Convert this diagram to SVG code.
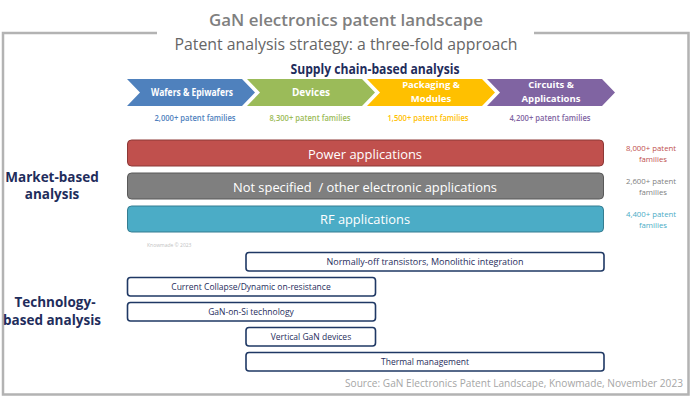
<svg xmlns="http://www.w3.org/2000/svg" width="700" height="402" viewBox="0 0 700 402">
<style>
  text { font-family: "Open Sans", "Noto Sans", "Liberation Sans", sans-serif; }
  .frame { fill: none; stroke: #b3b3b3; stroke-width: 2.5; }
  .title { font-size: 17px; font-weight: 600; fill: #7f7f7f; text-anchor: middle; }
  .subtitle { font-size: 15.5px; fill: #666666; text-anchor: middle; }
  .navyhead { font-size: 13.5px; font-weight: 700; fill: #1f2d5c; text-anchor: middle; }
  .chev { stroke: none; }
  .chevtxt { font-size: 10px; font-weight: 700; fill: #ffffff; text-anchor: middle; }
  .chevtxt2 { font-size: 9.5px; font-weight: 700; fill: #ffffff; text-anchor: middle; }
  .fam { font-size: 8px; font-weight: 600; text-anchor: middle; }
  .bar { stroke-width: 1; }
  .bartxt { font-size: 13.5px; fill: #ffffff; text-anchor: middle; }
  .side { font-size: 7.8px; text-anchor: middle; }
  .tech rect { fill: #ffffff; stroke: #1f3864; stroke-width: 1.6; }
  .techtxt { font-size: 8.5px; fill: #1f2d5c; text-anchor: middle; }
  .source { font-size: 10.5px; fill: #a6a6a6; text-anchor: end; }
</style>

<!-- frame -->
<g id="frame">
  <polyline class="frame" points="157,33 3,33 3,394.5 688.5,394.5 688.5,33 534,33"/>
</g>

<g id="titles">
  <text class="title" x="346" y="26" textLength="274" lengthAdjust="spacingAndGlyphs">GaN electronics patent landscape</text>
  <text class="subtitle" x="346" y="50" textLength="343" lengthAdjust="spacingAndGlyphs">Patent analysis strategy: a three-fold approach</text>
</g>

<g id="supply-chain">
  <text class="navyhead" x="375" y="74" textLength="169" lengthAdjust="spacingAndGlyphs">Supply chain-based analysis</text>
  <g id="chev-wafers">
    <polygon class="chev" fill="#4f81bd" points="127,79 242,79 255,92.5 242,106 127,106 140,92.5"/>
    <text class="chevtxt" x="192" y="96" textLength="82" lengthAdjust="spacingAndGlyphs">Wafers &amp; Epiwafers</text>
    <text class="fam" fill="#4f81bd" x="195" y="121" textLength="81" lengthAdjust="spacingAndGlyphs">2,000+ patent families</text>
  </g>
  <g id="chev-devices">
    <polygon class="chev" fill="#9bbb59" points="247,79 362,79 375,92.5 362,106 247,106 260,92.5"/>
    <text class="chevtxt" x="311" y="96">Devices</text>
    <text class="fam" fill="#9bbb59" x="310" y="121" textLength="81" lengthAdjust="spacingAndGlyphs">8,300+ patent families</text>
  </g>
  <g id="chev-packaging">
    <polygon class="chev" fill="#ffc000" points="367,79 482,79 495,92.5 482,106 367,106 380,92.5"/>
    <text class="chevtxt2" x="431" y="88">Packaging &amp;</text>
    <text class="chevtxt2" x="431" y="101.5">Modules</text>
    <text class="fam" fill="#ffc000" x="428" y="121" textLength="81" lengthAdjust="spacingAndGlyphs">1,500+ patent families</text>
  </g>
  <g id="chev-circuits">
    <polygon class="chev" fill="#8064a2" points="487,79 602,79 615,92.5 602,106 487,106 500,92.5"/>
    <text class="chevtxt2" x="551" y="88">Circuits &amp;</text>
    <text class="chevtxt2" x="551" y="101.5">Applications</text>
    <text class="fam" fill="#8064a2" x="550" y="121" textLength="81" lengthAdjust="spacingAndGlyphs">4,200+ patent families</text>
  </g>
</g>

<g id="market">
  <text class="navyhead" x="52" y="182">Market-based</text>
  <text class="navyhead" x="52" y="199">analysis</text>
  <g id="bar-power">
    <rect class="bar" x="127.5" y="140" width="476" height="26" rx="4" fill="#c0504d" stroke="#8c3836"/>
    <text class="bartxt" x="365" y="159" textLength="114" lengthAdjust="spacingAndGlyphs">Power applications</text>
    <text class="side" fill="#c0504d" x="651" y="151">8,000+ patent</text>
    <text class="side" fill="#c0504d" x="653" y="162">families</text>
  </g>
  <g id="bar-other">
    <rect class="bar" x="127.5" y="173" width="476" height="26" rx="4" fill="#7f7f7f" stroke="#595959"/>
    <text class="bartxt" x="365" y="192" textLength="264" lengthAdjust="spacingAndGlyphs" xml:space="preserve">Not specified  / other electronic applications</text>
    <text class="side" fill="#7f7f7f" x="651" y="184">2,600+ patent</text>
    <text class="side" fill="#7f7f7f" x="653" y="195">families</text>
  </g>
  <g id="bar-rf">
    <rect class="bar" x="127.5" y="206" width="476" height="26" rx="4" fill="#4bacc6" stroke="#357d91"/>
    <text class="bartxt" x="365" y="224" textLength="90" lengthAdjust="spacingAndGlyphs">RF applications</text>
    <text class="side" fill="#4bacc6" x="651" y="217">4,400+ patent</text>
    <text class="side" fill="#4bacc6" x="653" y="228">families</text>
  </g>
</g>

<text x="147" y="247" style="font-size:5px; fill:#bfbfbf;">Knowmade © 2023</text>

<g id="technology">
  <text class="navyhead" x="55" y="307">Technology-</text>
  <text class="navyhead" x="52" y="325">based analysis</text>
  <g id="tech-normally-off" class="tech">
    <rect x="246" y="252.5" width="358" height="18.5" rx="3"/>
    <text class="techtxt" x="425" y="265" textLength="197" lengthAdjust="spacingAndGlyphs">Normally-off transistors, Monolithic integration</text>
  </g>
  <g id="tech-current-collapse" class="tech">
    <rect x="127.5" y="277.5" width="248" height="18.5" rx="3"/>
    <text class="techtxt" x="251" y="290">Current Collapse/Dynamic on-resistance</text>
  </g>
  <g id="tech-gan-on-si" class="tech">
    <rect x="127.5" y="302.5" width="248" height="18.5" rx="3"/>
    <text class="techtxt" x="251" y="315">GaN-on-Si technology</text>
  </g>
  <g id="tech-vertical" class="tech">
    <rect x="246" y="327.5" width="129.5" height="18.5" rx="3"/>
    <text class="techtxt" x="311" y="340">Vertical GaN devices</text>
  </g>
  <g id="tech-thermal" class="tech">
    <rect x="246" y="352.5" width="358" height="18.5" rx="3"/>
    <text class="techtxt" x="425" y="365">Thermal management</text>
  </g>
</g>

<g id="connectors"></g>

<text class="source" x="683" y="387" textLength="338" lengthAdjust="spacingAndGlyphs">Source: GaN Electronics Patent Landscape, Knowmade, November 2023</text>
</svg>
